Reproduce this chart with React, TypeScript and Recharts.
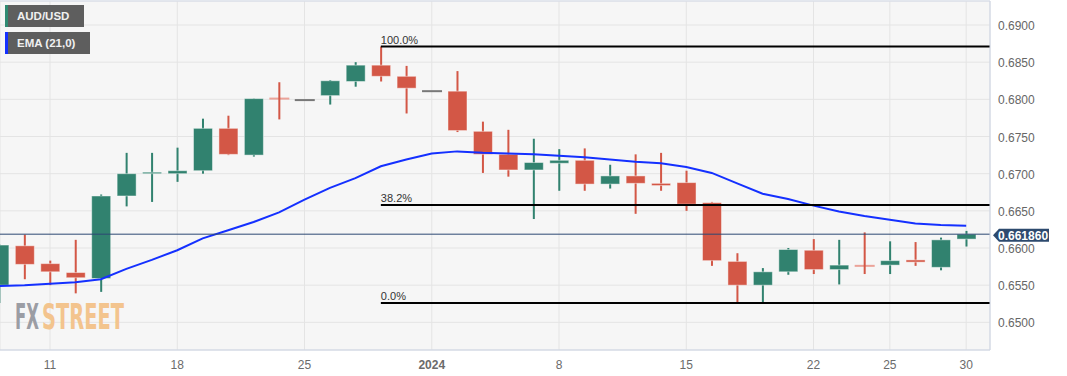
import { ComposedChart, Bar, Line, XAxis, YAxis, CartesianGrid, ReferenceLine } from 'recharts'

// trading days shown (Dec 7 2023 .. Jan 30 2024)
const days = [7, 8, 11, 12, 13, 14, 15, 18, 19, 20, 21, 22, 25, 26, 27, 28, 29, 1, 2, 3, 4, 5, 8, 9, 10, 11, 12, 15, 16, 17, 18, 19, 22, 23, 24, 25, 26, 29, 30]

const opens = [0.6550, 0.6603, 0.6579, 0.6567, 0.6559, 0.6670, 0.6700, 0.6700, 0.6704, 0.6761, 0.6725, 0.6801, 0.6799, 0.6805, 0.6824, 0.6846, 0.6831, 0.6811, 0.6811, 0.6757, 0.6726, 0.6705, 0.6714, 0.6718, 0.6686, 0.6697, 0.6687, 0.6688, 0.6661, 0.6582, 0.6550, 0.6568, 0.6597, 0.6571, 0.6576, 0.6577, 0.6584, 0.6574, 0.6612]
const highs = [0.6605, 0.6618, 0.6583, 0.6611, 0.6672, 0.6728, 0.6728, 0.6735, 0.6774, 0.6778, 0.6801, 0.6823, 0.6799, 0.6826, 0.6850, 0.6871, 0.6845, 0.6811, 0.6838, 0.6770, 0.6759, 0.6747, 0.6733, 0.6734, 0.6712, 0.6726, 0.6728, 0.6704, 0.6662, 0.6593, 0.6573, 0.6600, 0.6612, 0.6611, 0.6621, 0.6609, 0.6608, 0.6614, 0.6623]
const lows = [0.6526, 0.6558, 0.6550, 0.6539, 0.6541, 0.6656, 0.6662, 0.6689, 0.6700, 0.6725, 0.6723, 0.6773, 0.6799, 0.6793, 0.6817, 0.6824, 0.6781, 0.6811, 0.6756, 0.6701, 0.6696, 0.6639, 0.6677, 0.6677, 0.6680, 0.6646, 0.6677, 0.6650, 0.6576, 0.6525, 0.6527, 0.6564, 0.6565, 0.6551, 0.6565, 0.6565, 0.6576, 0.6570, 0.6602]
const closes = [0.6604, 0.6578, 0.6568, 0.6560, 0.6670, 0.6700, 0.6702, 0.6704, 0.6761, 0.6726, 0.6801, 0.6801, 0.6799, 0.6825, 0.6846, 0.6831, 0.6815, 0.6811, 0.6758, 0.6726, 0.6705, 0.6715, 0.6718, 0.6686, 0.6697, 0.6687, 0.6684, 0.6659, 0.6583, 0.6550, 0.6568, 0.6598, 0.6571, 0.6577, 0.6576, 0.6583, 0.6581, 0.6611, 0.66186]
const ema = [0.6549, 0.6550, 0.6552, 0.6554, 0.6558, 0.6572, 0.6584, 0.6597, 0.6613, 0.6624, 0.6635, 0.6648, 0.6665, 0.6681, 0.6694, 0.6710, 0.6719, 0.6727, 0.6730, 0.6728, 0.6727, 0.6726, 0.6724, 0.6722, 0.6719, 0.6716, 0.6714, 0.6709, 0.6701, 0.6687, 0.6673, 0.6666, 0.6657, 0.6649, 0.6643, 0.6638, 0.6633, 0.6631, 0.6630]

const tickIdx = [2, 7, 12, 17, 22, 27, 32, 35, 38]
const yTicks = [0.65, 0.655, 0.66, 0.665, 0.67, 0.675, 0.68, 0.685, 0.69]

const lastPrice = 0.66186
const fibStart = 15
const fibHigh = 0.6871
const fibLow = 0.6526
const fibMid = fibLow + 0.382 * (fibHigh - fibLow)

const X_DOMAIN: [number, number] = [0.035, 38.935]
const Y_DOMAIN: [number, number] = [0.64628, 0.69323]

const data = days.map((d, i) => ({
    i,
    day: d,
    open: opens[i],
    high: highs[i],
    low: lows[i],
    close: closes[i],
    ema: ema[i],
}))

const GREEN = '#31826f'
const RED = '#d35746'
const FONT = '"Liberation Sans", Arial, sans-serif'
const WM_FONT = '"DejaVu Sans Condensed", "DejaVu Sans", sans-serif'

function Candle(props: any) {
    const { x, y, width, height, payload } = props
    if (x == null || y == null) return null
    const { open, high, low, close } = payload
    const top = Math.min(y, y + height)
    const h = Math.abs(height)
    const cx = x + width / 2
    const span = high - low
    const py = (v: number) => (span > 0 ? top + ((high - v) / span) * h : top)

    if (span === 0) {
        return <rect x={x} y={top - 1} width={width} height={2} fill="#787878" />
    }
    const up = close > open
    const color = up ? GREEN : RED
    if (open === close) {
        return (
            <g>
                <rect x={x} y={py(open) - 1} width={width} height={2} fill="#eba399" />
                <rect x={cx - 1} y={py(high)} width={2} height={py(low) - py(high)} fill={color} />
            </g>
        )
    }
    const bTop = py(Math.max(open, close))
    const bH = Math.max(1.5, Math.abs(py(open) - py(close)))
    return (
        <g>
            <rect x={cx - 1} y={py(high)} width={2} height={py(low) - py(high)} fill={color} />
            <rect
                x={x + 0.5}
                y={bTop}
                width={width - 1}
                height={bH}
                fill={color}
                stroke="rgba(255,255,255,0.45)"
                strokeWidth={1}
            />
        </g>
    )
}

function XTick(props: any) {
    const { x, y, payload } = props
    const d = days[payload.value]
    const isYear = payload.value === 17
    return (
        <text
            x={x}
            y={y + 11}
            textAnchor="middle"
            fill="#6b6b6b"
            fontSize={12}
            fontFamily={FONT}
            fontWeight={isYear ? 700 : 400}
        >
            {isYear ? '2024' : d}
        </text>
    )
}

function YTick(props: any) {
    const { x, y, payload } = props
    return (
        <text x={x} y={y + 5} fill="#666" fontSize={12} fontFamily={FONT}>
            {payload.value.toFixed(4)}
        </text>
    )
}

function fibLabel(text: string) {
    return (p: any) => (
        <text x={p.viewBox.x} y={p.viewBox.y - 3} fontSize={11} fill="#333" fontFamily={FONT}>
            {text}
        </text>
    )
}

function PriceTag(p: any) {
    const x0 = p.viewBox.x + p.viewBox.width + 3
    const cy = p.viewBox.y + 1
    return (
        <g>
            <polygon
                points={`${x0},${cy} ${x0 + 6},${cy - 6.5} ${x0 + 56},${cy - 6.5} ${x0 + 56},${cy + 6.5} ${x0 + 6},${cy + 6.5}`}
                fill="#2d4a6e"
            />
            <text x={x0 + 5} y={cy + 4.5} fill="#fff" fontSize={12} fontWeight={700} fontFamily={FONT}>
                {lastPrice.toFixed(6)}
            </text>
        </g>
    )
}

const legendBox = (color: string, width: number, top: number, text: string) => (
    <div
        style={{
            position: 'absolute',
            left: 5,
            top,
            width,
            height: 22,
            background: '#5e5e5e',
            borderLeft: `3px solid ${color}`,
            boxSizing: 'border-box',
            color: '#f0f0f0',
            fontFamily: FONT,
            fontSize: 11.5,
            fontWeight: 700,
            lineHeight: '22px',
            paddingLeft: 9,
        }}
    >
        {text}
    </div>
)

export default function App() {
    return (
        <div style={{ position: 'absolute', left: 0, top: 0, width: 1067, height: 376, background: '#fff' }}>
            <ComposedChart width={1067} height={376} data={data} margin={{ top: 1, right: 0, bottom: 0, left: 0 }}>
                <CartesianGrid stroke="#e4e4e4" fill="#f6f6f6" />
                <XAxis
                    type="number"
                    dataKey="i"
                    domain={X_DOMAIN}
                    allowDataOverflow
                    ticks={tickIdx}
                    interval={0}
                    tick={<XTick />}
                    tickLine={false}
                    axisLine={{ stroke: '#cdd5e5' }}
                    height={26}
                />
                <YAxis
                    orientation="right"
                    domain={Y_DOMAIN}
                    allowDataOverflow
                    ticks={yTicks}
                    interval={0}
                    tick={<YTick />}
                    tickLine={false}
                    axisLine={{ stroke: '#cdd5e5' }}
                    width={77}
                />
                <ReferenceLine y={Y_DOMAIN[1]} stroke="#d5dcea" />
                <Bar
                    dataKey={(d: any) => [d.low, d.high]}
                    barSize={20}
                    shape={<Candle />}
                    isAnimationActive={false}
                />
                <Line
                    type="linear"
                    dataKey="ema"
                    stroke="#1430ff"
                    strokeWidth={2}
                    dot={false}
                    activeDot={false}
                    isAnimationActive={false}
                />
                <ReferenceLine
                    segment={[{ x: fibStart, y: fibHigh }, { x: X_DOMAIN[1], y: fibHigh }]}
                    stroke="#000"
                    strokeWidth={2}
                    ifOverflow="visible"
                    label={fibLabel('100.0%')}
                />
                <ReferenceLine
                    segment={[{ x: fibStart, y: fibMid }, { x: X_DOMAIN[1], y: fibMid }]}
                    stroke="#000"
                    strokeWidth={2}
                    ifOverflow="visible"
                    label={fibLabel('38.2%')}
                />
                <ReferenceLine
                    segment={[{ x: fibStart, y: fibLow }, { x: X_DOMAIN[1], y: fibLow }]}
                    stroke="#000"
                    strokeWidth={2}
                    ifOverflow="visible"
                    label={fibLabel('0.0%')}
                />
                <ReferenceLine y={lastPrice} stroke="#2c4872" strokeWidth={1} label={PriceTag} />
            </ComposedChart>
            {legendBox('#2f8a72', 79, 5, 'AUD/USD')}
            {legendBox('#1430ff', 85, 32, 'EMA (21,0)')}
            <svg
                style={{ position: 'absolute', left: 0, top: 0, pointerEvents: 'none' }}
                width={200}
                height={376}
            >
                <g transform="translate(15,329) scale(0.5,1)">
                    <text
                        x={0}
                        y={0}
                        fontSize={35}
                        fontWeight={700}
                        fontFamily={WM_FONT}
                        textLength={48}
                        lengthAdjust="spacingAndGlyphs"
                        fill="#9b9da4"
                    >
                        FX
                    </text>
                    <text
                        x={54}
                        y={0}
                        fontSize={35}
                        fontWeight={700}
                        fontFamily={WM_FONT}
                        textLength={164}
                        lengthAdjust="spacingAndGlyphs"
                        fill="#f3c48e"
                    >
                        STREET
                    </text>
                </g>
            </svg>
        </div>
    )
}
